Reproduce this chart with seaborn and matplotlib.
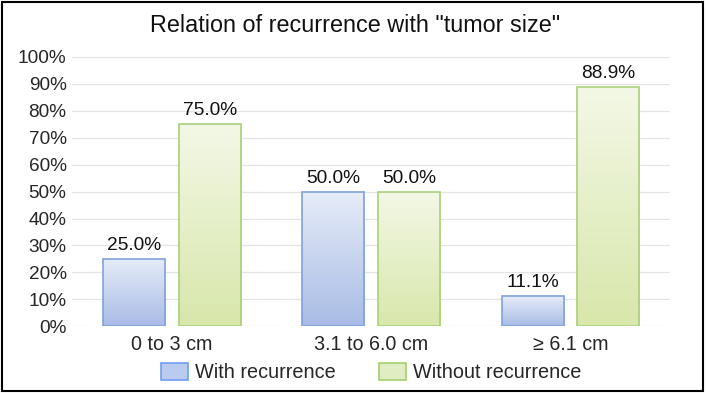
import numpy as np
import pandas as pd
import matplotlib
matplotlib.use("Agg")
import matplotlib.pyplot as plt
import seaborn as sns
from matplotlib.colors import LinearSegmentedColormap
from matplotlib.patches import Patch, Rectangle

categories = ["0 to 3 cm", "3.1 to 6.0 cm", "\u2265 6.1 cm"]
with_recurrence = [25.0, 50.0, 11.1]
without_recurrence = [75.0, 50.0, 88.9]
series_names = ["With recurrence", "Without recurrence"]
yticks = list(range(0, 101, 10))

df = pd.DataFrame({
    "size": categories * 2,
    "pct": with_recurrence + without_recurrence,
    "group": [series_names[0]] * 3 + [series_names[1]] * 3,
})

sns.set_theme(style="white")
plt.rcParams["font.family"] = ["Liberation Sans", "DejaVu Sans"]

fig = plt.figure(figsize=(7.07, 3.93), dpi=100)
ax = fig.add_axes([0.102, 0.170, 0.846, 0.685])

edge_cols = {series_names[0]: "#7fa2dc", series_names[1]: "#a9d07a"}
grad = {
    series_names[0]: ("#a9bce6", "#e6ecf8"),
    series_names[1]: ("#d8e7ab", "#f3f8e6"),
}

sns.barplot(data=df, x="size", y="pct", hue="group", order=categories,
            hue_order=series_names, palette=["#c5d3ef", "#e5efcc"],
            width=0.76, gap=0.18, legend=False, ax=ax, zorder=3)

ax.set_xlim(-0.5, 2.5)
ax.set_ylim(0, 100)
ax.set_yticks(yticks)
ax.set_yticklabels([f"{t}%" for t in yticks], fontsize=13.7)
ax.tick_params(axis="x", labelsize=14.2, pad=6, length=0)
ax.tick_params(axis="y", pad=4, length=0)
ax.set_xlabel("")
ax.set_ylabel("")
ax.yaxis.grid(True, color="#e4e4e4", linewidth=0.9)
ax.set_axisbelow(True)
for s in ax.spines.values():
    s.set_visible(False)

# gradient fills clipped to each bar, plus edges and value labels
for container, name in zip(ax.containers, series_names):
    cmap = LinearSegmentedColormap.from_list(name, list(grad[name]))
    for bar, val in zip(container, container.datavalues):
        x0, y0 = bar.get_x(), bar.get_y()
        w, h = bar.get_width(), bar.get_height()
        bar.set_facecolor("none")
        bar.set_edgecolor(edge_cols[name])
        bar.set_linewidth(1.2)
        bar.set_zorder(4)
        img = ax.imshow(np.linspace(0, 1, 256).reshape(-1, 1), cmap=cmap,
                        origin="lower", aspect="auto",
                        extent=[x0, x0 + w, y0, y0 + h], zorder=3)
        img.set_clip_path(bar)
        ax.text(x0 + w / 2, y0 + h + 1.8, f"{val:.1f}%", ha="center",
                va="bottom", fontsize=13.8, color="#111111")

ax.set_xlim(-0.5, 2.5)
ax.set_ylim(0, 100)

fig.text(0.502, 0.936, 'Relation of recurrence with "tumor size"', fontsize=16.8,
         ha="center", va="center", color="#111111")

handles = [Patch(facecolor="#b9cbee", edgecolor="#6f9ef0", linewidth=1.2),
           Patch(facecolor="#e0edc3", edgecolor="#a3d06a", linewidth=1.2)]
fig.legend(handles, series_names, loc="center", bbox_to_anchor=(0.525, 0.052),
           ncol=2, frameon=False, fontsize=14.3, handlelength=1.36,
           handleheight=1.0, handletextpad=0.32, columnspacing=2.2)

fig.patches.append(Rectangle((0.003, 0.004), 0.992, 0.992, transform=fig.transFigure,
                             fill=False, edgecolor="black", linewidth=1.5))

fig.savefig("out.png", dpi=100)
